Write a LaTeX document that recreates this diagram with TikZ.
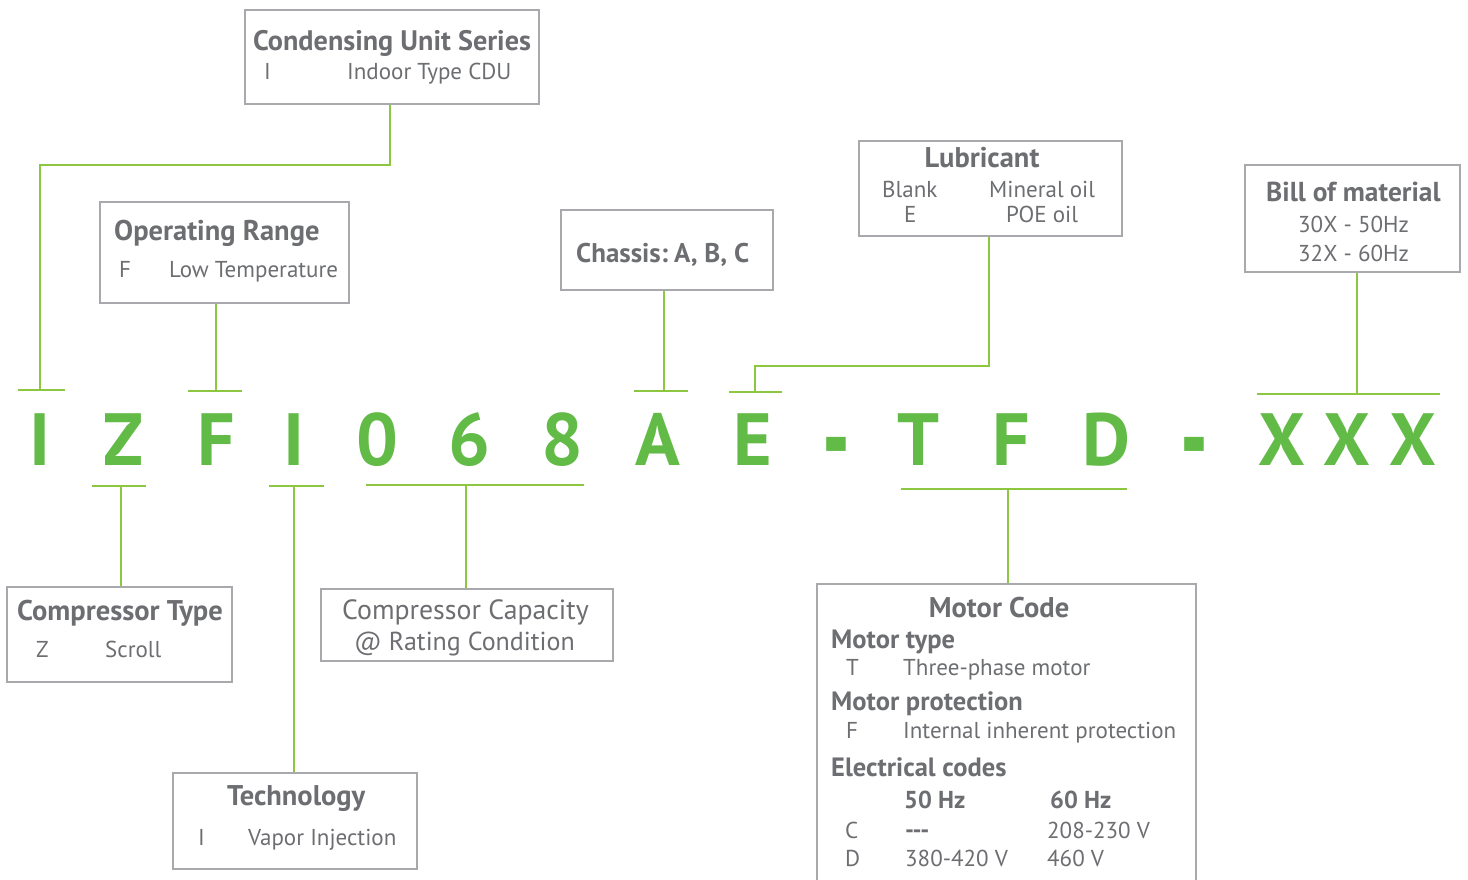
\documentclass[tikz,border=0pt]{standalone}
\usepackage{fontspec}
\setmainfont{PT Sans}
\definecolor{txtc}{HTML}{6D6E71}
\definecolor{lg}{HTML}{8DC63F}
\definecolor{dg}{HTML}{62BB46}
\definecolor{bxc}{HTML}{A7A9AC}
\begin{document}
\begin{tikzpicture}[x=1pt,y=-1pt,
 box/.style={draw=bxc, line width=1.3pt, inner sep=0pt, rectangle},
 wire/.style={draw=lg, line width=2.8pt},
 ttl/.style={font=\fontsize{28.5}{28.5}\selectfont\bfseries, text=txtc, inner sep=0pt, anchor=base west},
 sub/.style={font=\fontsize{26.5}{26.5}\selectfont\bfseries, text=txtc, inner sep=0pt, anchor=base west},
 hz/.style={font=\fontsize{24.5}{24.5}\selectfont\bfseries, text=txtc, inner sep=0pt, anchor=base west},
 tx/.style={font=\fontsize{23}{23}\selectfont, text=txtc, inner sep=0pt, anchor=base west},
 big/.style={font=\fontsize{74}{74}\selectfont\bfseries, text=dg, inner sep=0pt, anchor=base}
]
\useasboundingbox (0,0) rectangle (1468,879);
\clip (0,0) rectangle (1468,879);
\fill[white] (0,0) rectangle (1468,879);

% boxes
\node[box, minimum width=294pt, minimum height=94pt] (cus) at (392,57) {};
\node[box, minimum width=249pt, minimum height=101pt] (opr) at (224.5,252.5) {};
\node[box, minimum width=212pt, minimum height=80pt] (chs) at (667,250) {};
\node[box, minimum width=263pt, minimum height=95pt] (lub) at (990.5,188.5) {};
\node[box, minimum width=215pt, minimum height=107pt] (bom) at (1352.5,218.5) {};
\node[box, minimum width=225pt, minimum height=95pt] (cpt) at (119.5,634.5) {};
\node[box, minimum width=244pt, minimum height=96pt] (tec) at (295,821) {};
\node[box, minimum width=292pt, minimum height=72pt] (cap) at (467,625) {};
\node[box, minimum width=379pt, minimum height=316pt] (mot) at (1006.5,742) {};

% bar centres
\coordinate (t1) at (40,390);
\coordinate (t2) at (216,391);
\coordinate (t3) at (664,391);
\coordinate (t4) at (755,392);
\coordinate (t5) at (1357,394);
\coordinate (t6) at (121,486);
\coordinate (t7) at (294,486);
\coordinate (t8) at (466,485);
\coordinate (t9) at (1008,489);

% bars
\draw[wire] ([xshift=-22pt]t1) -- ([xshift=25pt]t1);
\draw[wire] ([xshift=-28pt]t2) -- ([xshift=26pt]t2);
\draw[wire] ([xshift=-30pt]t3) -- ([xshift=24pt]t3);
\draw[wire] ([xshift=-26pt]t4) -- ([xshift=27pt]t4);
\draw[wire] ([xshift=-100pt]t5) -- ([xshift=83pt]t5);
\draw[wire] ([xshift=-29pt]t6) -- ([xshift=25pt]t6);
\draw[wire] ([xshift=-25pt]t7) -- ([xshift=30pt]t7);
\draw[wire] ([xshift=-100pt]t8) -- ([xshift=118pt]t8);
\draw[wire] ([xshift=-107pt]t9) -- ([xshift=119pt]t9);

% connectors
\draw[wire] ([xshift=-2pt]cus.south) -- ([xshift=-2pt]cus.south |- 0,165) -| (t1);
\draw[wire] (t2) -- (t2 |- opr.south);
\draw[wire] (t3) -- (t3 |- chs.south);
\draw[wire] ([xshift=-1.5pt]lub.south) -- ([xshift=-1.5pt]lub.south |- 0,366) -| (t4);
\draw[wire] (t5) -- (t5 |- bom.south);
\draw[wire] (t6) -- (t6 |- cpt.north);
\draw[wire] (t7) -- (t7 |- tec.north);
\draw[wire] (t8) -- (t8 |- cap.north);
\draw[wire] (t9) -- (t9 |- mot.north);

% big code
\node[big] (c1) at (40.5,465) {I};
\node[big] (c2) at (123,465) {Z};
\node[big] (c3) at (216,465) {F};
\node[big] (c4) at (294,465) {I};
\node[big] (c5) at (377,465) {0};
\node[big] (c6) at (469,465) {6};
\node[big] (c7) at (562,465) {8};
\node[big] (c8) at (658,465) {A};
\node[big] (c9) at (753,465) {E};
\node[big] (c10) at (836,465) {\raisebox{-14pt}{\scalebox{1.05}[1.65]{-}}};
\node[big] (c11) at (919,465) {T};
\node[big] (c12) at (1011,465) {F};
\node[big] (c13) at (1106,465) {D};
\node[big] (c14) at (1194,465) {\raisebox{-14pt}{\scalebox{1.05}[1.65]{-}}};
\node[big] (c15) at (1282,465) {X};
\node[big] (c16) at (1347,465) {X};
\node[big] (c17) at (1413,465) {X};

% texts
\node[ttl, font=\fontsize{28.2}{28.2}\selectfont\bfseries] (cusA) at (253,50) {Condensing Unit Series};
\node[tx] (cusB) at (264,79) {I};
\node[tx] (cusC) at (347,79) {Indoor Type CDU};

\node[ttl] (oprA) at (114,240) {Operating Range};
\node[tx] (oprB) at (119,277) {F};
\node[tx] (oprC) at (169,277) {Low Temperature};

\node[ttl, font=\fontsize{27}{27}\selectfont\bfseries] (chsA) at (576,262) {Chassis:\hspace{6pt}A, B, C};

\node[ttl, anchor=base] (lubA) at (982,167) {Lubricant};
\node[tx] (lubB) at (882,197) {Blank};
\node[tx] (lubC) at (989,197) {Mineral oil};
\node[tx] (lubD) at (904,222) {E};
\node[tx] (lubE) at (1006,222) {POE oil};

\node[ttl, font=\fontsize{27.4}{27.4}\selectfont\bfseries] (bomA) at (1266,201) {Bill of material};
\node[tx] (bomB) at (1298,232) {30X - 50Hz};
\node[tx] (bomC) at (1298,261) {32X - 60Hz};

\node[ttl] (cptA) at (17,620) {Compressor Type};
\node[tx] (cptB) at (36,657) {Z};
\node[tx] (cptC) at (105,657) {Scroll};

\node[tx, font=\fontsize{27.8}{27.8}\selectfont] (capA) at (342,619) {Compressor Capacity};
\node[tx, font=\fontsize{26}{26}\selectfont] (capB) at (354,650) {@ Rating Condition};

\node[ttl] (tecA) at (227,805) {Technology};
\node[tx] (tecB) at (198,845) {I};
\node[tx] (tecC) at (248,845) {Vapor Injection};

\node[ttl, anchor=base] (motA) at (999,617) {Motor Code};
\node[sub] (motB) at (831,648) {Motor type};
\node[tx] (motC) at (846,675) {T};
\node[tx] (motD) at (903,675) {Three-phase motor};
\node[sub] (motE) at (831,710) {Motor protection};
\node[tx] (motF) at (846,738) {F};
\node[tx] (motG) at (903,738) {Internal inherent protection};
\node[sub] (motH) at (831,776) {Electrical codes};
\node[hz] (motI) at (904,808) {50 Hz};
\node[hz] (motJ) at (1050,808) {60 Hz};
\node[tx] (motK) at (845,838) {C};
\node[tx, font=\fontsize{25}{25}\selectfont\bfseries] (motL) at (905,838) {-{}-{}-};
\node[tx] (motM) at (1047,838) {208-230 V};
\node[tx] (motN) at (845,866) {D};
\node[tx] (motO) at (905,866) {380-420 V};
\node[tx] (motP) at (1047,866) {460 V};
\end{tikzpicture}
\end{document}
